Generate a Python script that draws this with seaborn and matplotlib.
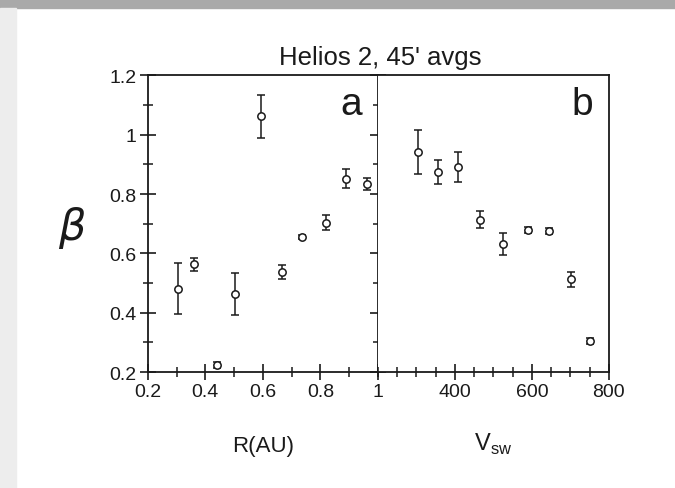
import numpy as np
import pandas as pd
import matplotlib
matplotlib.use("Agg")
import matplotlib.pyplot as plt
from matplotlib.patches import Rectangle
from matplotlib.ticker import MultipleLocator, FixedLocator
import seaborn as sns

# ---- data ----
r_au = [0.305, 0.361, 0.441, 0.503, 0.595, 0.668, 0.737, 0.818, 0.889, 0.961]
beta_r = [0.481, 0.563, 0.223, 0.464, 1.062, 0.537, 0.655, 0.703, 0.851, 0.835]
err_r = [0.085, 0.022, 0.010, 0.070, 0.072, 0.025, 0.008, 0.025, 0.032, 0.020]

v_sw = [305, 355, 407, 465, 525, 591, 644, 701, 751]
beta_v = [0.941, 0.873, 0.890, 0.714, 0.633, 0.680, 0.674, 0.512, 0.304]
err_v = [0.074, 0.040, 0.050, 0.030, 0.037, 0.010, 0.010, 0.025, 0.010]

r_ticks = [0.2, 0.4, 0.6, 0.8, 1.0]
r_ticklabels = ["0.2", "0.4", "0.6", "0.8", "1"]
v_ticks = [400, 600, 800]
v_ticklabels = ["400", "600", "800"]
y_ticks = [0.2, 0.4, 0.6, 0.8, 1.0, 1.2]
y_ticklabels = ["0.2", "0.4", "0.6", "0.8", "1", "1.2"]

title = "Helios 2, 45' avgs"

sns.set_theme(style="ticks")
plt.rcParams["font.family"] = ["Liberation Sans", "DejaVu Sans"]

fig = plt.figure(figsize=(6.75, 4.89), dpi=100)
fig.patch.set_facecolor("white")
# scanned-page grey frame
fig.add_artist(Rectangle((0, 1 - 9 / 489), 1, 9 / 489, transform=fig.transFigure,
                         color="#a9a9a9", zorder=0))
fig.add_artist(Rectangle((0, 0), 16 / 675, 1 - 9 / 489, transform=fig.transFigure,
                         color="#ededed", zorder=0))

bottom, height = 0.237, 0.607
axa = fig.add_axes([0.219, bottom, 0.341, height])
axb = fig.add_axes([0.560, bottom, 0.342, height])

dfa = pd.DataFrame({"R": r_au, "beta": beta_r, "err": err_r})
dfb = pd.DataFrame({"V": v_sw, "beta": beta_v, "err": err_v})

ink = "#1a1a1a"
for ax, df, xcol in [(axa, dfa, "R"), (axb, dfb, "V")]:
    ax.errorbar(df[xcol], df["beta"], yerr=df["err"], fmt="none", ecolor=ink,
                elinewidth=1.1, capsize=3, capthick=1.1, zorder=2)
    sns.scatterplot(data=df, x=xcol, y="beta", ax=ax, marker="o", s=28,
                    facecolor="white", edgecolor=ink, linewidth=1.1, zorder=3)
    ax.set_ylim(0.2, 1.2)
    ax.set_xlabel("")
    ax.set_ylabel("")
    for sp in ax.spines.values():
        sp.set_visible(True)
        sp.set_linewidth(1.3)
        sp.set_color(ink)

# panel a
axa.set_xlim(0.2, 1.0)
axa.xaxis.set_major_locator(FixedLocator(r_ticks))
axa.set_xticklabels(r_ticklabels)
axa.xaxis.set_minor_locator(MultipleLocator(0.1))
axa.yaxis.set_major_locator(FixedLocator(y_ticks))
axa.set_yticklabels(y_ticklabels)
axa.yaxis.set_minor_locator(MultipleLocator(0.1))
axa.tick_params(axis="both", which="major", direction="inout", length=12, width=1.2,
                color=ink, labelsize=14, labelcolor=ink, pad=2)
axa.tick_params(axis="both", which="minor", direction="inout", length=7, width=1.1, color=ink)
axa.tick_params(axis="y", which="both", left=True, right=True)
axa.tick_params(axis="x", which="both", top=False)
axa.text(0.93, 0.965, "a", transform=axa.transAxes, ha="right", va="top",
         fontsize=28, color=ink)
axa.set_ylabel(r"$\beta$", fontsize=31, rotation=0, color=ink, ha="center", va="center")
axa.yaxis.set_label_coords(-0.33, 0.49)
axa.set_xlabel("R(AU)", fontsize=16, color=ink, labelpad=25)

# panel b
axb.set_xlim(200, 800)
axb.xaxis.set_major_locator(FixedLocator(v_ticks))
axb.set_xticklabels(v_ticklabels)
axb.xaxis.set_minor_locator(MultipleLocator(50))
axb.tick_params(axis="x", which="major", direction="inout", length=12, width=1.2,
                color=ink, labelsize=14, labelcolor=ink, pad=2)
axb.tick_params(axis="x", which="minor", direction="inout", length=7, width=1.1, color=ink)
axb.tick_params(axis="y", which="both", left=False, right=False, labelleft=False)
axb.spines["left"].set_visible(False)
axb.text(0.93, 0.965, "b", transform=axb.transAxes, ha="right", va="top",
         fontsize=28, color=ink)
axb.set_xlabel(r"V$_{\mathregular{sw}}$", fontsize=17, color=ink, labelpad=22)

fig.text(0.563, 1 - 65 / 489, title, ha="center", va="baseline", fontsize=18.5, color=ink)

fig.savefig("out.png", dpi=100)
